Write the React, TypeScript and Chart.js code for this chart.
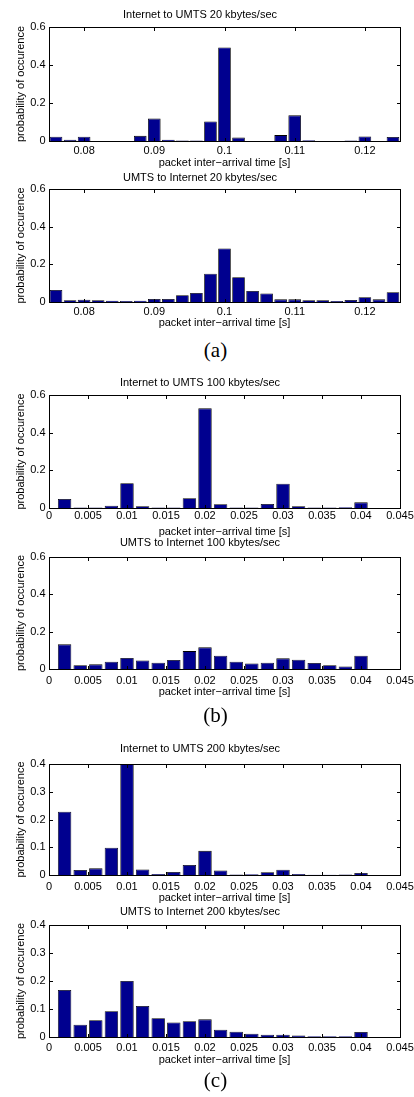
import React, { useEffect, useRef } from "react";
import { Chart, registerables } from "chart.js";

Chart.register(...registerables);

// ---- data ----
const bins20 = [
  0.076, 0.078, 0.08, 0.082, 0.084, 0.086, 0.088, 0.09, 0.092, 0.094, 0.096, 0.098, 0.1,
  0.102, 0.104, 0.106, 0.108, 0.11, 0.112, 0.114, 0.116, 0.118, 0.12, 0.122, 0.124,
];
const binsFast = [
  0.002, 0.004, 0.006, 0.008, 0.01, 0.012, 0.014, 0.016, 0.018, 0.02,
  0.022, 0.024, 0.026, 0.028, 0.03, 0.032, 0.034, 0.036, 0.038, 0.04,
];
const xTicks20 = [0.08, 0.09, 0.1, 0.11, 0.12];
const xTicksFast = [0, 0.005, 0.01, 0.015, 0.02, 0.025, 0.03, 0.035, 0.04, 0.045];
const yTicks06 = [0, 0.2, 0.4, 0.6];
const yTicks04 = [0, 0.1, 0.2, 0.3, 0.4];

const inetToUmts20 = [
  0.022, 0.006, 0.022, 0, 0, 0, 0.027, 0.118, 0.007, 0.002, 0.002, 0.103, 0.492,
  0.018, 0, 0, 0.031, 0.135, 0.004, 0, 0, 0.002, 0.024, 0, 0.021,
];
const umtsToInet20 = [
  0.064, 0.009, 0.012, 0.009, 0.007, 0.005, 0.007, 0.016, 0.016, 0.036, 0.048, 0.15, 0.284,
  0.132, 0.059, 0.045, 0.014, 0.014, 0.009, 0.009, 0.005, 0.011, 0.025, 0.014, 0.052,
];
const inetToUmts100 = [
  0.048, 0.002, 0.002, 0.012, 0.132, 0.009, 0.002, 0.002, 0.052, 0.529,
  0.02, 0.002, 0.002, 0.021, 0.129, 0.009, 0.002, 0.002, 0.004, 0.03,
];
const umtsToInet100 = [
  0.132, 0.02, 0.025, 0.039, 0.059, 0.046, 0.034, 0.048, 0.096, 0.116,
  0.071, 0.039, 0.03, 0.034, 0.057, 0.05, 0.032, 0.02, 0.014, 0.071,
];
const inetToUmts200 = [
  0.228, 0.018, 0.024, 0.098, 0.4, 0.02, 0.004, 0.011, 0.036, 0.087,
  0.016, 0.002, 0.003, 0.01, 0.019, 0.004, 0.001, 0.001, 0.002, 0.007,
];
const umtsToInet200 = [
  0.168, 0.044, 0.06, 0.092, 0.2, 0.111, 0.067, 0.052, 0.056, 0.063,
  0.026, 0.019, 0.012, 0.008, 0.008, 0.005, 0.003, 0.003, 0.003, 0.018,
];

const FONT = '"Liberation Sans", Arial, Helvetica, sans-serif';
const FS = 11;
const LH = FS * 1.2;
const W = 414;
const PLOT_LEFT = 49;
const PLOT_RIGHT = 400;

const boxPlugin = {
  id: "matlabBox",
  afterDatasetsDraw(chart: any) {
    const { ctx, chartArea: a, scales } = chart;
    const l = Math.round(a.left) + 0.5;
    const r = Math.round(a.right) + 0.5;
    const t = Math.round(a.top) + 0.5;
    const b = Math.round(a.bottom) + 0.5;
    ctx.save();
    ctx.strokeStyle = "#000";
    ctx.lineWidth = 1;
    ctx.strokeRect(l, t, r - l, b - t);
    const L = 3.5;
    ctx.beginPath();
    scales.x.ticks.forEach((tk: any) => {
      const px = Math.round(scales.x.getPixelForValue(tk.value)) + 0.5;
      ctx.moveTo(px, b);
      ctx.lineTo(px, b - L);
      ctx.moveTo(px, t);
      ctx.lineTo(px, t + L);
    });
    scales.y.ticks.forEach((tk: any) => {
      const py = Math.round(scales.y.getPixelForValue(tk.value)) + 0.5;
      ctx.moveTo(l, py);
      ctx.lineTo(l + L, py);
      ctx.moveTo(r, py);
      ctx.lineTo(r - L, py);
    });
    ctx.stroke();
    ctx.restore();
  },
};

type PanelProps = {
  title: string;
  bins: number[];
  values: number[];
  xTicks: number[];
  xMin: number;
  xMax: number;
  yTicks: number[];
  yMax: number;
  titleY: number;
  plotTop: number;
  plotBottom: number;
  tickY: number;
  xlabelY: number;
  barPct: number;
};

function Panel(p: PanelProps) {
  const ref = useRef<HTMLCanvasElement>(null);
  const canvasTop = Math.floor(p.titleY - 9);
  const canvasBottom = Math.ceil(p.xlabelY + 9);
  const H = canvasBottom - canvasTop;
  const tTop = p.titleY - LH / 2 - canvasTop;
  const localTop = p.plotTop - canvasTop;
  const tBottom = Math.max(0, localTop - tTop - LH);
  const localBottom = p.plotBottom - canvasTop;
  const xAxisH = H - localBottom;
  const xlabPadBottom = H - (p.xlabelY - canvasTop) - LH / 2;
  const tickPad = Math.max(0, p.tickY - p.plotBottom - LH / 2);

  useEffect(() => {
    const font = { family: FONT, size: FS, weight: "normal" as const };
    const chart = new Chart(ref.current as HTMLCanvasElement, {
      type: "bar",
      data: {
        datasets: [
          {
            data: p.bins.map((x, i) => ({ x, y: p.values[i] })),
            backgroundColor: "#00008f",
            borderColor: "#000000",
            borderWidth: 0.8,
            barPercentage: p.barPct,
            categoryPercentage: 1,
          } as any,
        ],
      },
      options: {
        responsive: false,
        animation: false,
        events: [],
        layout: { padding: { left: 0, right: W - PLOT_RIGHT, top: 0, bottom: 0 } },
        plugins: {
          legend: { display: false },
          tooltip: { enabled: false },
          title: {
            display: true,
            text: p.title,
            font,
            color: "#000",
            padding: { top: tTop, bottom: tBottom },
          },
        },
        scales: {
          x: {
            type: "linear",
            min: p.xMin,
            max: p.xMax,
            offset: false,
            grid: { display: false, drawTicks: false },
            border: { display: false },
            ticks: {
              autoSkip: false,
              maxRotation: 0,
              minRotation: 0,
              padding: tickPad,
              font,
              color: "#000",
              callback: (v: any) => String(v),
            },
            afterBuildTicks: (s: any) => {
              s.ticks = p.xTicks.map((v) => ({ value: v }));
            },
            afterFit: (s: any) => {
              s.height = xAxisH;
              s.paddingLeft = 0;
              s.paddingRight = 0;
            },
            title: {
              display: true,
              text: "packet inter\u2212arrival time [s]",
              font,
              color: "#000",
              padding: { top: 0, bottom: xlabPadBottom },
            },
          },
          y: {
            type: "linear",
            min: 0,
            max: p.yMax,
            grid: { display: false, drawTicks: false },
            border: { display: false },
            ticks: {
              padding: 3.5,
              font,
              color: "#000",
              callback: (v: any) => String(v),
            },
            afterBuildTicks: (s: any) => {
              s.ticks = p.yTicks.map((v) => ({ value: v }));
            },
            afterFit: (s: any) => {
              s.width = PLOT_LEFT;
              s.paddingTop = 0;
              s.paddingBottom = 0;
            },
            title: {
              display: true,
              text: "probability of occurence",
              font,
              color: "#000",
              padding: { top: 21 - LH / 2, bottom: 0 },
            },
          },
        },
      } as any,
      plugins: [boxPlugin],
    });
    return () => chart.destroy();
  }, []);

  return (
    <canvas
      ref={ref}
      width={W}
      height={H}
      style={{ position: "absolute", left: 0, top: canvasTop, width: W, height: H }}
    />
  );
}

function Caption({ text, top }: { text: string; top: number }) {
  return (
    <div
      style={{
        position: "absolute",
        left: 165.5,
        width: 100,
        top,
        height: 24,
        lineHeight: "24px",
        textAlign: "center",
        fontFamily: '"Liberation Serif", "Times New Roman", serif',
        fontSize: 21,
        color: "#000",
      }}
    >
      {text}
    </div>
  );
}

export default function App() {
  return (
    <div
      style={{
        position: "absolute",
        left: 0,
        top: 0,
        width: W,
        height: 1097,
        background: "#fff",
        overflow: "hidden",
      }}
    >
      <Panel
        title="Internet to UMTS 20 kbytes/sec"
        bins={bins20}
        values={inetToUmts20}
        xTicks={xTicks20}
        xMin={0.075}
        xMax={0.125}
        yTicks={yTicks06}
        yMax={0.6}
        titleY={15}
        plotTop={27}
        plotBottom={141}
        tickY={151}
        xlabelY={163}
        barPct={0.9}
      />
      <Panel
        title="UMTS to Internet 20 kbytes/sec"
        bins={bins20}
        values={umtsToInet20}
        xTicks={xTicks20}
        xMin={0.075}
        xMax={0.125}
        yTicks={yTicks06}
        yMax={0.6}
        titleY={178}
        plotTop={189}
        plotBottom={302}
        tickY={312}
        xlabelY={323}
        barPct={0.9}
      />
      <Caption text="(a)" top={338} />
      <Panel
        title="Internet to UMTS 100 kbytes/sec"
        bins={binsFast}
        values={inetToUmts100}
        xTicks={xTicksFast}
        xMin={0}
        xMax={0.045}
        yTicks={yTicks06}
        yMax={0.6}
        titleY={383}
        plotTop={395}
        plotBottom={508}
        tickY={516}
        xlabelY={532}
        barPct={0.86}
      />
      <Panel
        title="UMTS to Internet 100 kbytes/sec"
        bins={binsFast}
        values={umtsToInet100}
        xTicks={xTicksFast}
        xMin={0}
        xMax={0.045}
        yTicks={yTicks06}
        yMax={0.6}
        titleY={543}
        plotTop={557}
        plotBottom={669}
        tickY={681}
        xlabelY={692}
        barPct={0.86}
      />
      <Caption text="(b)" top={703} />
      <Panel
        title="Internet to UMTS 200 kbytes/sec"
        bins={binsFast}
        values={inetToUmts200}
        xTicks={xTicksFast}
        xMin={0}
        xMax={0.045}
        yTicks={yTicks04}
        yMax={0.4}
        titleY={749}
        plotTop={764}
        plotBottom={875}
        tickY={887}
        xlabelY={898}
        barPct={0.86}
      />
      <Panel
        title="UMTS to Internet 200 kbytes/sec"
        bins={binsFast}
        values={umtsToInet200}
        xTicks={xTicksFast}
        xMin={0}
        xMax={0.045}
        yTicks={yTicks04}
        yMax={0.4}
        titleY={912}
        plotTop={925}
        plotBottom={1037}
        tickY={1048}
        xlabelY={1060}
        barPct={0.86}
      />
      <Caption text="(c)" top={1068} />
    </div>
  );
}
